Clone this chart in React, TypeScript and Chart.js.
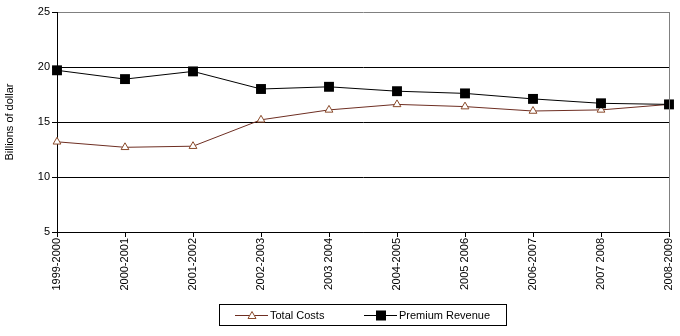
import React, { useEffect, useRef } from "react";
import { Chart, registerables } from "chart.js";

Chart.register(...registerables);

const categories = [
  "1999-2000", "2000-2001", "2001-2002", "2002-2003", "2003 2004",
  "2004-2005", "2005 2006", "2006-2007", "2007 2008", "2008-2009",
];
const totalCosts = [13.2, 12.7, 12.8, 15.2, 16.1, 16.6, 16.4, 16.0, 16.1, 16.6];
const premiumRevenue = [19.7, 18.9, 19.6, 18.0, 18.2, 17.8, 17.6, 17.1, 16.7, 16.6];
const yTicks = [5, 10, 15, 20, 25];

const FONT = "'Liberation Sans', Arial, sans-serif";
const COST_LINE = "#6e2e22";
const COST_MARK = "#8a4a2a";

const legendPlugin = {
  id: "customLegend",
  afterDraw(chart: any) {
    const ctx = chart.ctx;
    ctx.save();
    const a = chart.chartArea;
    ctx.strokeStyle = "#808080";
    ctx.lineWidth = 1;
    ctx.beginPath();
    ctx.moveTo(Math.round(a.right) + 0.5, a.top);
    ctx.lineTo(Math.round(a.right) + 0.5, a.bottom);
    ctx.stroke();

    const bx = 219.5, by = 304.5, bw = 287, bh = 21;
    ctx.strokeStyle = "#000";
    ctx.strokeRect(bx, by, bw, bh);
    const cy = 315.5;
    ctx.font = "11px " + FONT;
    ctx.textBaseline = "middle";
    ctx.fillStyle = "#000";

    ctx.strokeStyle = COST_LINE;
    ctx.beginPath();
    ctx.moveTo(235, cy);
    ctx.lineTo(268, cy);
    ctx.stroke();
    ctx.strokeStyle = COST_MARK;
    ctx.fillStyle = "#fff";
    ctx.beginPath();
    ctx.moveTo(252, cy - 4);
    ctx.lineTo(256, cy + 3);
    ctx.lineTo(248, cy + 3);
    ctx.closePath();
    ctx.fill();
    ctx.stroke();
    ctx.fillStyle = "#000";
    ctx.fillText("Total Costs", 270, cy);

    ctx.strokeStyle = "#000";
    ctx.beginPath();
    ctx.moveTo(364, cy);
    ctx.lineTo(397, cy);
    ctx.stroke();
    ctx.fillRect(376, cy - 5, 10, 10);
    ctx.fillText("Premium Revenue", 399, cy);
    ctx.restore();
  },
};

export default function App() {
  const ref = useRef<HTMLCanvasElement>(null);
  useEffect(() => {
    document.body.style.margin = "0";
    const chart = new Chart(ref.current!, {
      type: "line",
      data: {
        labels: categories,
        datasets: [
          {
            label: "Total Costs",
            data: totalCosts,
            order: 1,
            borderColor: COST_LINE,
            borderWidth: 1,
            pointStyle: "triangle",
            pointRadius: 4.5,
            pointBackgroundColor: "#fff",
            pointBorderColor: COST_MARK,
            pointBorderWidth: 1,
            tension: 0,
          },
          {
            label: "Premium Revenue",
            data: premiumRevenue,
            order: 0,
            borderColor: "#000",
            borderWidth: 1,
            pointStyle: "rect",
            pointRadius: 7,
            pointBackgroundColor: "#000",
            pointBorderColor: "#000",
            pointBorderWidth: 0,
            tension: 0,
          },
        ],
      },
      options: {
        animation: false,
        responsive: false,
        maintainAspectRatio: false,
        layout: { padding: { top: 12, right: 11, bottom: 36, left: 0 } },
        plugins: {
          legend: { display: false },
          tooltip: { enabled: false },
        },
        scales: {
          x: {
            type: "category",
            offset: false,
            grid: {
              drawOnChartArea: false,
              drawTicks: true,
              tickLength: 5,
              tickColor: "#000",
              color: "#000",
            },
            border: { color: "#000" },
            ticks: {
              autoSkip: false,
              maxRotation: 90,
              minRotation: 90,
              padding: 1,
              color: "#000",
              font: { family: FONT, size: 11 },
            },
            afterFit(scale: any) {
              scale.height = 68;
              scale.paddingRight = 0;
              scale.paddingLeft = 0;
            },
          },
          y: {
            min: 5,
            max: 25,
            afterBuildTicks(scale: any) {
              scale.ticks = yTicks.map((v) => ({ value: v }));
            },
            grid: {
              color: (c: any) => (c.tick && c.tick.value === 25 ? "#808080" : "#000"),
              tickColor: "#000",
              tickLength: 5,
              lineWidth: 1,
            },
            border: { color: "#000" },
            ticks: {
              padding: 2,
              color: "#000",
              font: { family: FONT, size: 11 },
            },
            title: {
              display: true,
              text: "Billions of dollar",
              color: "#000",
              font: { family: FONT, size: 11 },
              padding: { top: 3, bottom: 0 },
            },
            afterFit(scale: any) {
              scale.width = 57;
            },
          },
        },
      },
      plugins: [legendPlugin],
    });
    return () => chart.destroy();
  }, []);
  return (
    <div style={{ width: 680, height: 336, background: "#fff" }}>
      <canvas ref={ref} width={680} height={336} style={{ display: "block" }} />
    </div>
  );
}
